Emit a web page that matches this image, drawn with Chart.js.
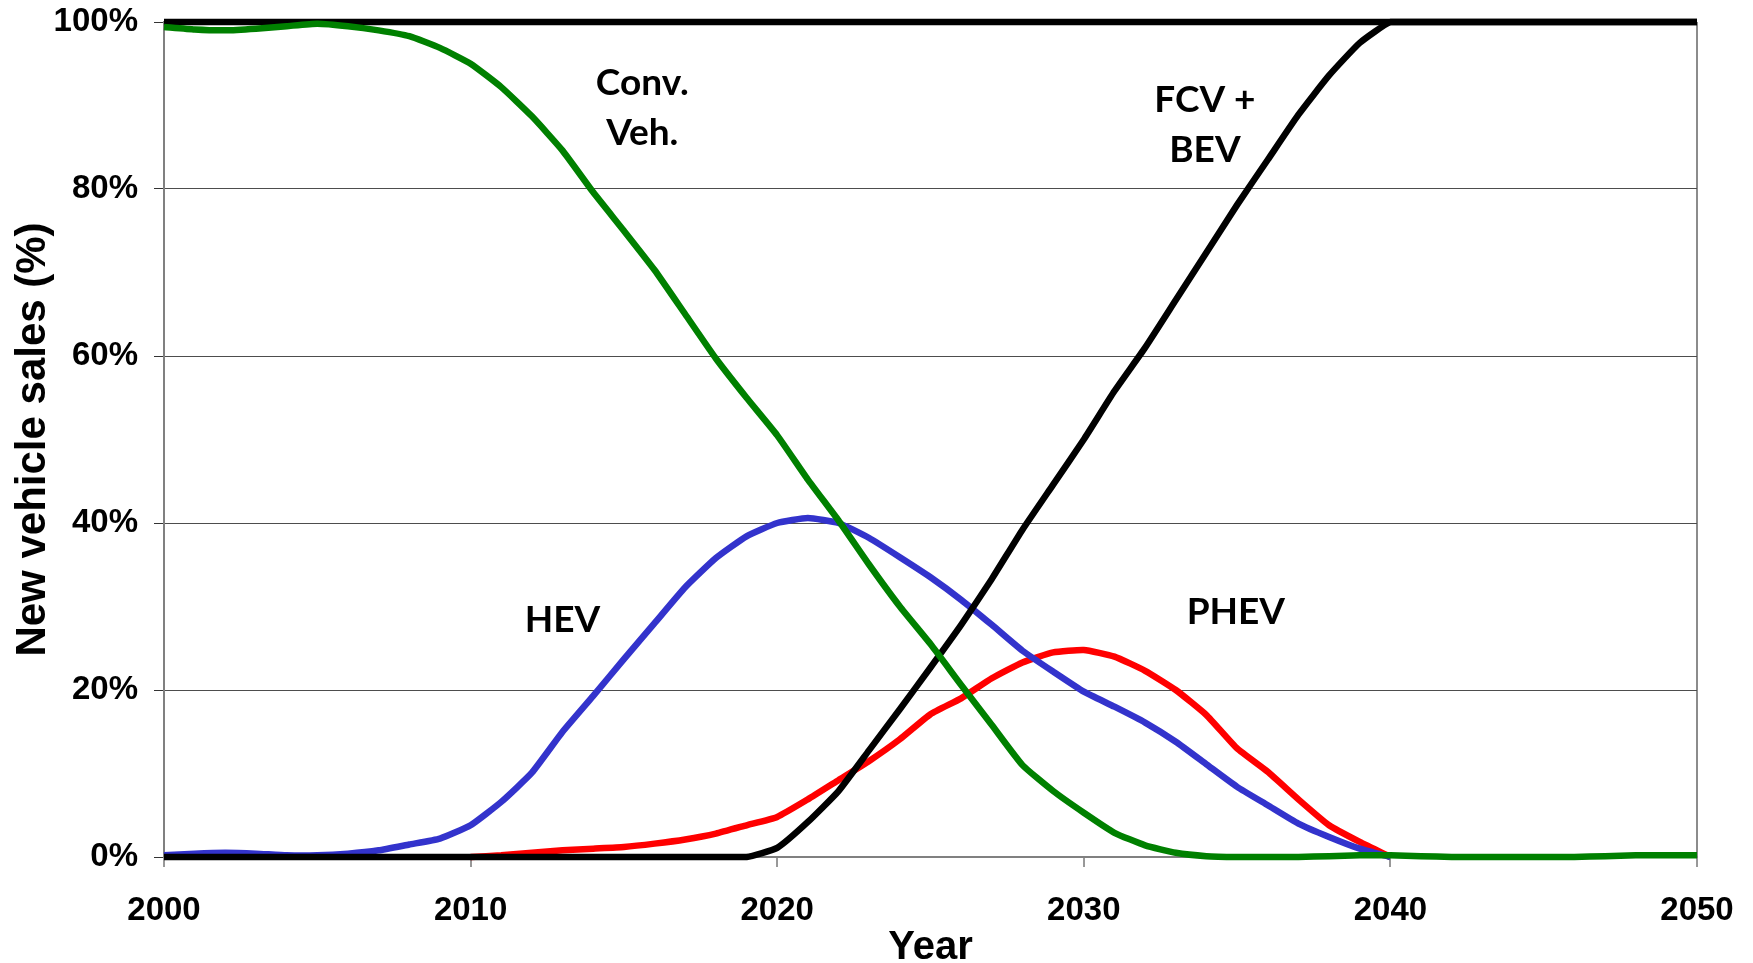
<!DOCTYPE html>
<html><head><meta charset="utf-8">
<script src="https://cdn.jsdelivr.net/npm/chart.js@4/dist/chart.umd.min.js"></script>
<style>html,body{margin:0;padding:0;background:#fff;}canvas{display:block;}</style>
</head><body>
<canvas id="c" width="1753" height="963"></canvas>
<script>
const years = [2000,2001,2002,2003,2004,2005,2006,2007,2008,2009,
  2010,2011,2012,2013,2014,2015,2016,2017,2018,2019,
  2020,2021,2022,2023,2024,2025,2026,2027,2028,2029,
  2030,2031,2032,2033,2034,2035,2036,2037,2038,2039,
  2040,2041,2042,2043,2044,2045,2046,2047,2048,2049,2050];

const convVeh = [99.4,99.1,99.0,99.2,99.5,99.8,99.5,99.0,98.3,96.9,
  95.0,92.2,88.7,84.6,79.6,75.0,70.3,65.0,59.7,55.0,
  50.5,45.2,40.3,35.0,30.0,25.5,20.6,15.8,11.0,7.9,
  5.3,2.9,1.4,0.5,0.1,0,0,0,0.1,0.2,
  0.2,0.1,0,0,0,0,0,0.1,0.2,0.2,0.2];

const hev = [0.2,0.4,0.5,0.4,0.2,0.2,0.4,0.8,1.5,2.2,
  3.8,6.6,10.1,15.0,19.3,23.7,28.0,32.3,35.8,38.4,
  40.0,40.6,40.0,38.2,35.9,33.5,30.8,27.8,24.7,22.2,
  19.8,18.0,16.1,13.8,11.1,8.4,6.2,4.0,2.4,1.0,
  0,null,null,null,null,null,null,null,null,null,null];

const phev = [null,null,null,null,null,null,null,null,null,null,
  0,0.2,0.5,0.8,1.0,1.2,1.6,2.1,2.8,3.8,
  4.8,6.9,9.2,11.5,14.1,17.1,19.0,21.4,23.3,24.5,
  24.8,24.0,22.3,20.0,17.0,13.0,10.2,6.9,3.8,1.8,
  0,null,null,null,null,null,null,null,null,null,null];

const fcvBev = [0,0,0,0,0,0,0,0,0,0,
  0,0,0,0,0,0,0,0,0,0,
  1.1,4.2,7.9,12.8,17.7,22.7,27.8,33.3,39.2,44.6,
  50.0,55.8,61.0,66.7,72.4,78.1,83.5,88.9,93.6,97.5,
  100,100,100,100,100,100,100,100,100,100,100];

const total = [100,100,100,100,100,100,100,100,100,100,
  100,100,100,100,100,100,100,100,100,100,
  100,100,100,100,100,100,100,100,100,100,
  100,100,100,100,100,100,100,100,100,100,
  100,100,100,100,100,100,100,100,100,100,100];

const xTicks = [2000,2010,2020,2030,2040,2050];
const yTicks = [0,20,40,60,80,100];

const annoText = [['Conv.','Veh.'],['FCV +','BEV'],['HEV'],['PHEV']];
const annoYear = [2015.6, 2033.95, 2013.0, 2034.96];
const annoValue = [89.7, 87.7, 28.4, 29.3];

function pts(arr){ return years.map((y,i)=>({x:y, y:arr[i]})); }

const FONT = "'Liberation Sans', Arial, sans-serif";

const annoPlugin = {
  id:'anno',
  afterDatasetsDraw(chart){
    const {ctx, scales:{x,y}} = chart;
    ctx.save();
    ctx.fillStyle = '#000';
    ctx.font = "bold 37px Lato, 'Open Sans', sans-serif";
    ctx.textAlign = 'center';
    ctx.textBaseline = 'middle';
    const lh = 50;
    annoText.forEach((lines,i)=>{
      const px = x.getPixelForValue(annoYear[i]);
      const py = y.getPixelForValue(annoValue[i]);
      const start = py - (lines.length-1)*lh/2;
      lines.forEach((t,j)=>ctx.fillText(t, px, start + j*lh));
    });
    ctx.restore();
  }
};

const common = {pointRadius:0, borderWidth:6.5, borderJoinStyle:'round', tension:0.15, fill:false, spanGaps:false, clip:false};

new Chart(document.getElementById('c'), {
  type:'line',
  data:{
    datasets:[
      Object.assign({label:'Conv. Veh.', data:pts(convVeh), borderColor:'#008000'}, common),
      Object.assign({label:'FCV + BEV', data:pts(fcvBev), borderColor:'#000000'}, common),
      Object.assign({label:'HEV', data:pts(hev), borderColor:'#3333cc'}, common),
      Object.assign({label:'PHEV', data:pts(phev), borderColor:'#ff0000'}, common),
      Object.assign({label:'Total', data:pts(total), borderColor:'#000000', tension:0}, Object.assign({}, common, {tension:0}))
    ]
  },
  options:{
    responsive:false,
    animation:false,
    devicePixelRatio:1,
    layout:{padding:{top:22, right:56, left:0, bottom:0}},
    plugins:{legend:{display:false}, tooltip:{enabled:false}, title:{display:false}},
    scales:{
      x:{
        type:'linear', min:2000, max:2050,
        afterBuildTicks(s){ s.ticks = xTicks.map(v=>({value:v})); },
        afterFit(s){ s.height = 106; s.paddingLeft = 0; s.paddingRight = 0; },
        ticks:{ color:'#000', padding:24, font:{family:FONT, size:33, weight:'bold'}, callback:v=>String(v), maxRotation:0 },
        grid:{
          drawOnChartArea:true, drawTicks:true, tickLength:10,
          color:c=> (c.tick && c.tick.value===2050) ? '#8c8c8c' : 'rgba(0,0,0,0)',
          lineWidth:2, tickColor:'#333', tickWidth:1
        },
        border:{display:true, color:'#808080', width:2},
        title:{display:true, text:'Year', color:'#000', padding:{top:0,bottom:0}, font:{family:FONT, size:40, weight:'bold', lineHeight:0.75}}
      },
      y:{
        min:0, max:100,
        afterBuildTicks(s){ s.ticks = yTicks.map(v=>({value:v})); },
        afterFit(s){ s.width = 164; s.paddingTop = 0; s.paddingBottom = 0; },
        ticks:{ color:'#000', padding:16, font:{family:FONT, size:33, weight:'bold'}, callback:v=>v+'%' },
        grid:{
          drawTicks:true, tickLength:10,
          color:c=> (c.tick && (c.tick.value===0)) ? 'rgba(0,0,0,0)' : '#4d4d4d',
          lineWidth:1, tickColor:'#333', tickWidth:1
        },
        border:{display:true, color:'#808080', width:2},
        title:{display:true, text:'New vehicle sales (%)', color:'#000', padding:{top:12,bottom:0}, font:{family:FONT, size:42, weight:'bold', lineHeight:1}}
      }
    }
  },
  plugins:[annoPlugin]
});
</script>
</body></html>
